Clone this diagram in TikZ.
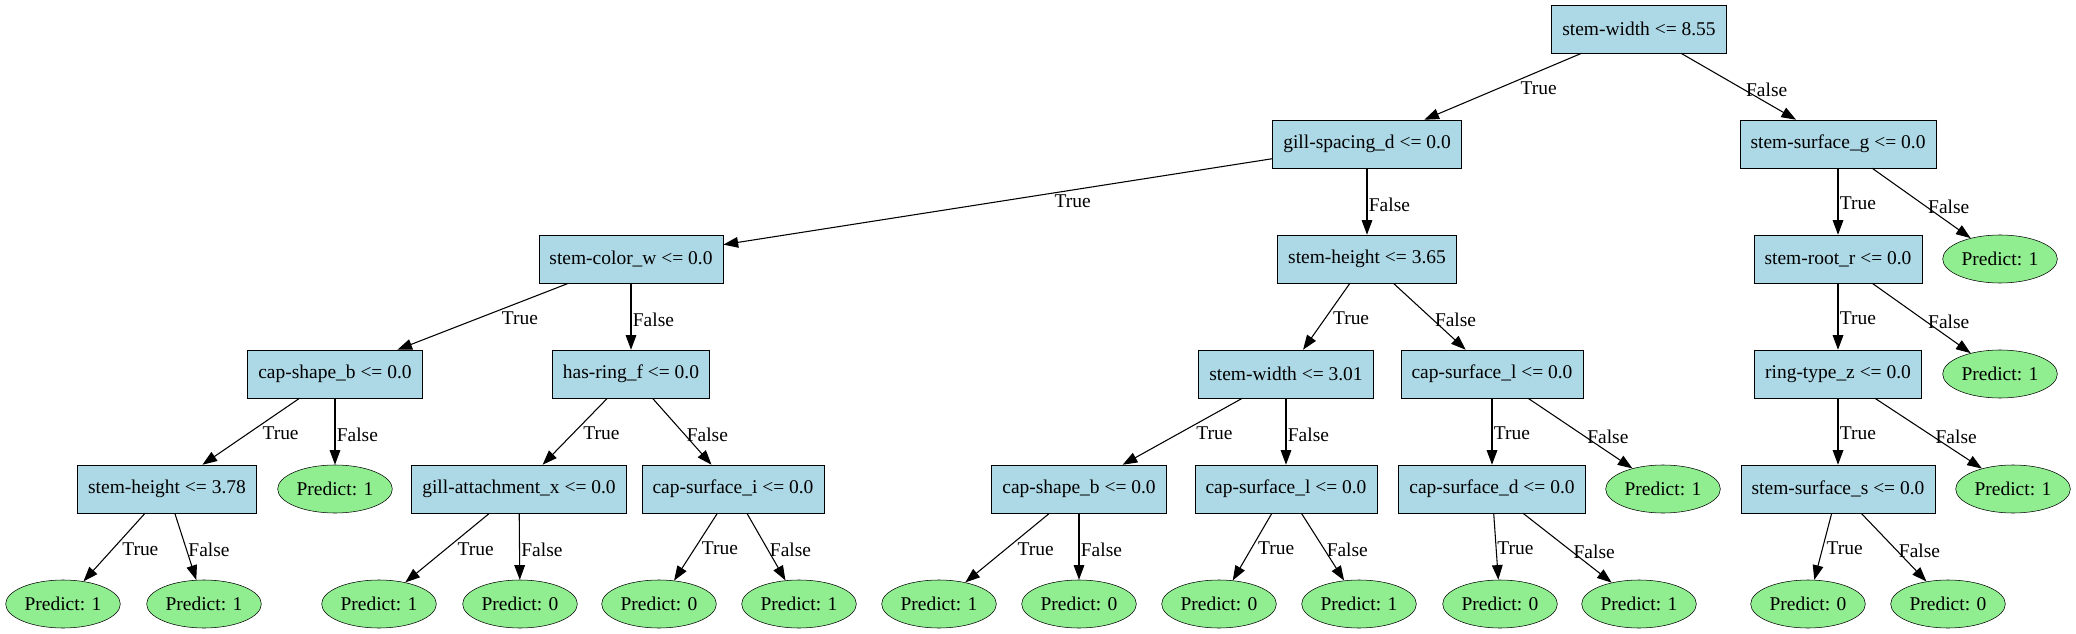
\documentclass[tikz,border=0pt]{standalone}
\usepackage{fontspec}
\setmainfont{Liberation Serif}
\usetikzlibrary{shapes.geometric, arrows.meta}

\definecolor{splitblue}{HTML}{ADD8E6}
\definecolor{leafgreen}{HTML}{90EE90}

\tikzset{
    split/.style={draw, fill=splitblue, rectangle, minimum height=36pt, inner xsep=8pt},
    leaf/.style={draw, fill=leafgreen, ellipse, minimum width=86pt, minimum height=36pt, inner sep=0pt},
    edge/.style={-{Triangle[length=11pt, width=8pt]}, line width=0.8pt},
    yes/.style={pos=0.4, anchor=north west, inner sep=1pt},
    no/.style={pos=0.55, anchor=west, inner sep=1pt}
}

\begin{document}
\begin{tikzpicture}[x=0.75pt, y=-0.75pt, font=\fontsize{14.6}{16}\selectfont]
\useasboundingbox (0,0) rectangle (2076,634);
% splits
\node[split] (sw855) at (1639,29) {stem-width <= 8.55};
\node[split] (gsd) at (1367,144) {gill-spacing\_d <= 0.0};
\node[split] (ssg) at (1838,144) {stem-surface\_g <= 0.0};
\node[split] (scw) at (631,259) {stem-color\_w <= 0.0};
\node[split] (sh365) at (1367,259) {stem-height <= 3.65};
\node[split] (srr) at (1838,259) {stem-root\_r <= 0.0};
\node[leaf] (p1a) at (2000,259) {Predict: 1};
\node[split] (csb) at (335,374) {cap-shape\_b <= 0.0};
\node[split] (hrf) at (631,374) {has-ring\_f <= 0.0};
\node[split] (sw301) at (1286,374) {stem-width <= 3.01};
\node[split] (csl) at (1492,374) {cap-surface\_l <= 0.0};
\node[split] (rtz) at (1838,374) {ring-type\_z <= 0.0};
\node[leaf] (p1b) at (2000,374) {Predict: 1};
\node[split] (sh378) at (167,489) {stem-height <= 3.78};
\node[leaf] (p1c) at (335,489) {Predict: 1};
\node[split] (gax) at (519,489) {gill-attachment\_x <= 0.0};
\node[split] (csi) at (733,489) {cap-surface\_i <= 0.0};
\node[split] (csb2) at (1079,489) {cap-shape\_b <= 0.0};
\node[split] (csl2) at (1286,489) {cap-surface\_l <= 0.0};
\node[split] (csd) at (1492,489) {cap-surface\_d <= 0.0};
\node[leaf] (p1d) at (1663,489) {Predict: 1};
\node[split] (sss) at (1838,489) {stem-surface\_s <= 0.0};
\node[leaf] (p1e) at (2013,489) {Predict: 1};
% leaves
\foreach \x/\v [count=\i] in {63/1, 204/1, 379/1, 520/0, 659/0, 799/1, 939/1,
    1079/0, 1219/0, 1359/1, 1500/0, 1639/1, 1808/0, 1948/0}
    \node[leaf] (l\i) at (\x,604) {Predict: \v};
% edges
\draw[edge] (sw855) -- node[yes] {True} (gsd);
\draw[edge] (sw855) -- node[no] {False} (ssg);
\draw[edge] (gsd) -- node[yes] {True} (scw);
\draw[edge] (gsd) -- node[no] {False} (sh365);
\draw[edge] (ssg) -- node[yes] {True} (srr);
\draw[edge] (ssg) -- node[no] {False} (p1a);
\draw[edge] (scw) -- node[yes] {True} (csb);
\draw[edge] (scw) -- node[no] {False} (hrf);
\draw[edge] (sh365) -- node[yes] {True} (sw301);
\draw[edge] (sh365) -- node[no] {False} (csl);
\draw[edge] (srr) -- node[yes] {True} (rtz);
\draw[edge] (srr) -- node[no] {False} (p1b);
\draw[edge] (csb) -- node[yes] {True} (sh378);
\draw[edge] (csb) -- node[no] {False} (p1c);
\draw[edge] (hrf) -- node[yes] {True} (gax);
\draw[edge] (hrf) -- node[no] {False} (csi);
\draw[edge] (sw301) -- node[yes] {True} (csb2);
\draw[edge] (sw301) -- node[no] {False} (csl2);
\draw[edge] (csl) -- node[yes] {True} (csd);
\draw[edge] (csl) -- node[no] {False} (p1d);
\draw[edge] (rtz) -- node[yes] {True} (sss);
\draw[edge] (rtz) -- node[no] {False} (p1e);
\foreach \s/\a/\b in {sh378/1/2, gax/3/4, csi/5/6, csb2/7/8, csl2/9/10, csd/11/12, sss/13/14} {
    \draw[edge] (\s) -- node[yes] {True} (l\a);
    \draw[edge] (\s) -- node[no] {False} (l\b);
}
\end{tikzpicture}
\end{document}
